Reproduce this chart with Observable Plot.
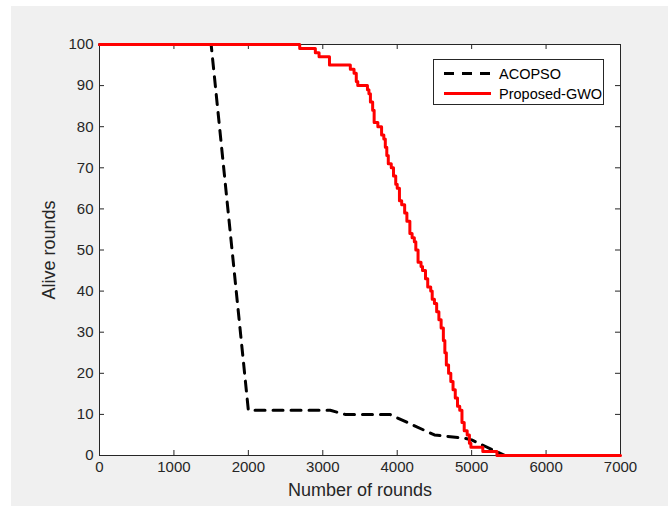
<!DOCTYPE html>
<html><head><meta charset="utf-8">
<script src="https://cdn.jsdelivr.net/npm/d3@7"></script>
<script src="https://cdn.jsdelivr.net/npm/@observablehq/plot@0.6"></script>
<style>
html,body{margin:0;padding:0;background:#fff;}
#wrap{position:relative;width:668px;height:506px;overflow:hidden;background:#fff;}
#chart{position:absolute;left:11px;top:6px;}
#legend{position:absolute;left:433px;top:59px;width:171px;height:46px;box-sizing:border-box;border:1px solid #262626;background:#fff;font-family:Arial,"Liberation Sans",sans-serif;color:#000;}
#legend svg{position:absolute;left:0;top:0;}
</style></head>
<body><div id="wrap"><div id="chart"></div><div id="legend"></div></div>
<script>
const xTicks = [0, 1000, 2000, 3000, 4000, 5000, 6000, 7000];
const yTicks = [0, 10, 20, 30, 40, 50, 60, 70, 80, 90, 100];
const seriesNames = ["ACOPSO", "Proposed-GWO"];

const acopsoRounds = [0, 1500, 2000, 3100, 3300, 3900, 4500, 4900, 5000, 5350, 5450, 7000];
const acopsoAlive  = [100, 100, 11, 11, 10, 10, 5, 4.2, 3.8, 0.8, 0, 0];

const gwoRounds = [0, 2690, 2900, 2950, 3090, 3370, 3420, 3450, 3470, 3600, 3620, 3640, 3670, 3690, 3740, 3790, 3820, 3840, 3860, 3880, 3920, 3950, 3980, 4000, 4030, 4060, 4100, 4130, 4170, 4200, 4230, 4250, 4280, 4320, 4340, 4380, 4410, 4450, 4470, 4500, 4530, 4560, 4590, 4620, 4640, 4660, 4690, 4720, 4750, 4780, 4810, 4840, 4870, 4900, 4940, 4970, 4990, 5150, 5340, 7000];
const gwoAlive  = [100, 99, 98, 97, 95, 94, 93, 91, 90, 89, 88, 86, 84, 81, 80, 78, 77, 75, 73, 71, 70, 68, 66, 65, 62, 61, 59, 57, 54, 53, 52, 50, 47, 46, 45, 43, 41, 40, 38, 37, 35, 33, 31, 28, 25, 22, 20, 18, 16, 14, 12, 11, 8, 6, 5, 3, 2, 1, 0, 0];

const acopso = acopsoRounds.map((r, i) => ({round: r, alive: acopsoAlive[i]}));
const gwo = gwoRounds.map((r, i) => ({round: r, alive: gwoAlive[i]}));

const W = 657, H = 500, ml = 88, mr = 48, mt = 38, mb = 51;
const pw = W - ml - mr, ph = H - mt - mb;
const ink = "#262626";
const font = "Arial, 'Liberation Sans', Helvetica, sans-serif";

const chart = Plot.plot({
  width: W, height: H,
  marginLeft: ml, marginRight: mr, marginTop: mt, marginBottom: mb,
  style: {background: "#f0f0f0", fontFamily: font, fontSize: "15px", color: ink, overflow: "visible"},
  x: {domain: [0, 7000]},
  y: {domain: [0, 100]},
  marks: [
    Plot.frame({fill: "#fff", stroke: null}),
    Plot.axisX({ticks: xTicks, tickSize: 0, tickPadding: 6, tickFormat: d => String(d), label: null, fontSize: 15, fill: ink}),
    Plot.axisY({ticks: yTicks, tickSize: 0, tickPadding: 6, tickFormat: d => String(d), label: null, fontSize: 15, fill: ink}),
    Plot.text(["Number of rounds"], {frameAnchor: "bottom", dy: 40, fontSize: 18, fill: ink}),
    Plot.text(["Alive rounds"], {frameAnchor: "left", textAnchor: "middle", dx: -50, rotate: -90, fontSize: 18, fill: ink}),
    Plot.tickX(xTicks, {x: d => d, insetTop: ph - 5, stroke: ink}),
    Plot.tickX(xTicks, {x: d => d, insetBottom: ph - 5, stroke: ink}),
    Plot.tickY(yTicks, {y: d => d, insetRight: pw - 5, stroke: ink}),
    Plot.tickY(yTicks, {y: d => d, insetLeft: pw - 5, stroke: ink}),
    Plot.frame({stroke: ink, strokeWidth: 1}),
    Plot.line(acopso, {x: "round", y: "alive", stroke: "#000", strokeWidth: 3, strokeDasharray: "10,8"}),
    Plot.line(gwo, {x: "round", y: "alive", curve: "step-after", stroke: "#ff0000", strokeWidth: 3})
  ]
});
document.getElementById("chart").appendChild(chart);

// legend
const lg = document.getElementById("legend");
const ns = "http://www.w3.org/2000/svg";
const svg = document.createElementNS(ns, "svg");
svg.setAttribute("width", 171); svg.setAttribute("height", 46);
const styles = [{stroke: "#000", dash: "10,8"}, {stroke: "#ff0000", dash: null}];
seriesNames.forEach((name, i) => {
  const yy = 13.5 + i * 20;
  const ln = document.createElementNS(ns, "line");
  ln.setAttribute("x1", 10); ln.setAttribute("x2", 57);
  ln.setAttribute("y1", yy); ln.setAttribute("y2", yy);
  ln.setAttribute("stroke", styles[i].stroke);
  ln.setAttribute("stroke-width", 3);
  if (styles[i].dash) ln.setAttribute("stroke-dasharray", styles[i].dash);
  svg.appendChild(ln);
  const tx = document.createElementNS(ns, "text");
  tx.setAttribute("x", 65); tx.setAttribute("y", yy);
  tx.setAttribute("dy", "0.35em");
  tx.setAttribute("font-family", font);
  tx.setAttribute("font-size", 14.5);
  tx.setAttribute("fill", "#000");
  tx.textContent = name;
  svg.appendChild(tx);
});
lg.appendChild(svg);
</script>
</body></html>
